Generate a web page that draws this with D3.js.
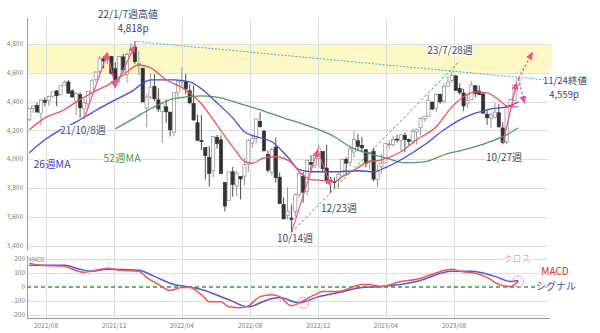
<!DOCTYPE html>
<html>
<head>
<meta charset="utf-8">
<script src="https://cdn.jsdelivr.net/npm/d3@7"></script>
<style>
body { margin: 0; background: #fff; }
svg { display: block; font-family: "Noto Sans CJK JP", "Noto Sans", sans-serif; }
</style>
</head>
<body>
<svg width="600" height="333"></svg>
<script>
const svg = d3.select('svg')

// weekly candles, one per Friday from 2021/7/2 to 2023/11/24
const weekEnds = d3.timeFriday.range(new Date(2021, 6, 1), new Date(2023, 10, 25))

const opens = [
	4274, 4352, 4372, 4320, 4409, 4406, 4438, 4474, 4448, 4514, 4536, 4474, 4402, 4448, 4348, 4385, 4463, 4553, 4610, 4697, 4689, 4712, 4628, 4572, 4710, 4587, 4733,
	4778, 4655, 4632, 4356, 4432, 4506, 4412, 4332, 4364, 4327, 4188, 4462, 4541, 4537, 4474, 4386, 4253, 4130, 4081, 4013, 3919, 4151, 4134, 3838, 3715, 3913,
	3815, 3880, 3883, 3966, 4112, 4143, 4262, 4195, 4034, 3910, 4084, 3875, 3686, 3609, 3591, 3638, 3753, 3881, 3777, 3977, 3956, 4005, 4053, 3939, 3853, 3843,
	3853, 3884, 3999, 3979, 4050, 4128, 4096, 4066, 3992, 4055, 3860, 3949, 3975, 4103, 4102, 4139, 4131, 4166, 4136, 4126, 4190, 4220, 4281, 4299, 4396, 4355,
	4450, 4404, 4505, 4547, 4578, 4492, 4459, 4389, 4415, 4510, 4473, 4453, 4313, 4284, 4289, 4322, 4217, 4120, 4364, 4407, 4514
]
const highs = [
	4355, 4372, 4393, 4415, 4429, 4441, 4468, 4480, 4513, 4545, 4549, 4486, 4465, 4466, 4429, 4475, 4559, 4608, 4718, 4714, 4743, 4717, 4672, 4713, 4731, 4741, 4808,
	4818, 4749, 4632, 4453, 4595, 4590, 4490, 4386, 4416, 4328, 4465, 4546, 4637, 4593, 4521, 4512, 4308, 4307, 4081, 4090, 4158, 4168, 4165, 3838, 3913, 3946,
	3918, 3880, 4012, 4141, 4167, 4280, 4325, 4203, 4062, 4076, 4150, 3908, 3736, 3806, 3686, 3762, 3905, 3912, 3993, 4028, 4034, 4100, 4053, 4101, 3876, 3874,
	3906, 4003, 4016, 4094, 4195, 4176, 4156, 4066, 4048, 4079, 3964, 4039, 4110, 4134, 4164, 4170, 4170, 4186, 4144, 4212, 4213, 4290, 4298, 4448, 4401, 4458,
	4457, 4528, 4578, 4607, 4584, 4527, 4490, 4458, 4541, 4514, 4511, 4466, 4338, 4324, 4393, 4385, 4256, 4367, 4421, 4521, 4560
]
const lows = [
	4264, 4321, 4327, 4233, 4367, 4370, 4430, 4367, 4442, 4514, 4456, 4428, 4305, 4289, 4279, 4346, 4459, 4537, 4595, 4630, 4659, 4586, 4495, 4531, 4600, 4532, 4733,
	4662, 4582, 4395, 4222, 4414, 4401, 4328, 4115, 4252, 4157, 4161, 4424, 4507, 4450, 4381, 4268, 4125, 4063, 3859, 3811, 3875, 4074, 3900, 3637, 3715, 3739,
	3743, 3722, 3818, 3913, 4080, 4112, 4218, 4058, 3907, 3886, 3838, 3694, 3584, 3583, 3491, 3603, 3733, 3698, 3751, 3906, 3938, 3941, 3918, 3828, 3764, 3801,
	3794, 3878, 3885, 3949, 4015, 4060, 4047, 3944, 3928, 3847, 3809, 3899, 3975, 4069, 4087, 4114, 4049, 4048, 4098, 4103, 4103, 4167, 4261, 4292, 4341, 4328,
	4385, 4389, 4503, 4528, 4474, 4448, 4335, 4356, 4415, 4430, 4446, 4316, 4238, 4216, 4283, 4223, 4104, 4103, 4329, 4402, 4511
]
const closes = [
	4352, 4369, 4327, 4411, 4395, 4436, 4468, 4441, 4509, 4535, 4458, 4432, 4455, 4357, 4391, 4471, 4545, 4605, 4697, 4682, 4698, 4595, 4538, 4712, 4620, 4726, 4766,
	4677, 4663, 4398, 4432, 4500, 4419, 4349, 4385, 4329, 4204, 4463, 4543, 4546, 4488, 4392, 4272, 4132, 4123, 4024, 3901, 4158, 4109, 3901, 3675, 3912, 3825,
	3899, 3863, 3962, 4130, 4145, 4280, 4228, 4058, 3924, 4067, 3873, 3693, 3586, 3640, 3583, 3753, 3901, 3771, 3993, 3965, 4026, 4072, 3934, 3852, 3845, 3840,
	3895, 3999, 3973, 4071, 4136, 4090, 4079, 3970, 4046, 3862, 3917, 3971, 4109, 4105, 4138, 4133, 4169, 4136, 4124, 4192, 4205, 4282, 4299, 4410, 4348, 4450,
	4399, 4505, 4536, 4582, 4478, 4464, 4370, 4406, 4515, 4457, 4450, 4320, 4288, 4308, 4327, 4224, 4117, 4358, 4415, 4514, 4559
]

// moving averages: [week number, value]
const ma13 = [[0, 4204], [4, 4287], [9, 4343], [12, 4398], [16, 4460], [21, 4530], [24, 4585], [28, 4654], [31, 4634], [35, 4551], [40, 4481], [44, 4385],
	[47, 4275], [50, 4160], [53, 4050], [55, 3985], [57, 3972], [60, 4010], [63, 4017], [67, 3975], [69, 3913], [72, 3858], [74, 3855], [78, 3844], [80, 3878],
	[84, 3941], [86, 3975], [90, 3996], [95, 4052], [99, 4135], [104, 4225], [108, 4363], [111, 4433], [114, 4467], [117, 4460], [120, 4412], [122, 4370], [125, 4363]]
const ma26 = [[0, 4045], [4, 4135], [8, 4204], [12, 4259], [16, 4322], [20, 4384], [26, 4467], [31, 4551], [37, 4551], [41, 4537], [45, 4467], [48, 4391],
	[52, 4287], [55, 4190], [59, 4149], [62, 4121], [66, 4017], [69, 3927], [72, 3913], [78, 3913], [84, 3920], [88, 3913], [91, 3941], [95, 3996], [101, 4100],
	[106, 4204], [111, 4287], [117, 4343], [120, 4356], [122, 4363], [125, 4398]]
const ma52 = [[22, 4211], [27, 4287], [31, 4350], [37, 4420], [44, 4440], [49, 4426], [54, 4384], [59, 4343], [65, 4287], [72, 4225], [78, 4156], [82, 4086],
	[86, 4045], [91, 4010], [96, 3975], [101, 3982], [106, 4031], [111, 4065], [117, 4114], [122, 4169], [125, 4218]]

// MACD panel: [week number, value]
const macd = [[0, 171], [3, 156], [9, 149], [11, 127], [14, 105], [16, 113], [20, 135], [23, 120], [28, 113], [30, 69], [33, 18], [36, -25], [39, -4], [41, -4],
	[44, -55], [46, -105], [49, -105], [51, -142], [54, -149], [56, -135], [59, -69], [62, -55], [64, -69], [67, -135], [69, -113], [73, -55], [75, -33], [79, -33],
	[85, 18], [87, 18], [90, 4], [95, 40], [99, 55], [103, 91], [108, 127], [110, 113], [114, 98], [117, 69], [120, 18], [123, 4], [125, 40]]
const signal = [[0, 156], [9, 156], [13, 127], [16, 113], [20, 127], [28, 120], [32, 76], [37, 18], [40, 4], [44, -18], [51, -91], [56, -142], [61, -91],
	[64, -76], [69, -113], [74, -69], [79, -40], [85, -4], [90, 4], [99, 40], [108, 113], [113, 113], [119, 76], [123, 40], [125, 47]]

const priceTicks = [3400, 3600, 3800, 4000, 4200, 4400, 4600, 4800]
const macdTicks = [-200, -100, 0, 100, 200]
const monthTicks = ['2021/08', '2021/12', '2022/04', '2022/08', '2022/12', '2023/04', '2023/08']

// trend lines and arrows: [date, value] pairs
const resistance = [['2022-01-07', 4818], ['2024-01-16', 4549]]
const support = [['2022-10-14', 3491], ['2023-08-11', 4682]]
const arrows = [
	[['2021-10-08', 4279], ['2021-11-19', 4740]],
	[['2021-11-19', 4740], ['2021-12-03', 4500]],
	[['2021-12-03', 4500], ['2022-01-07', 4790]],
	[['2022-10-14', 3491], ['2022-11-30', 4065]],
	[['2022-11-30', 4065], ['2022-12-23', 3815]],
	[['2023-10-27', 4104], ['2023-11-21', 4530]]
]
const outlook = [
	[['2023-11-24', 4560], ['2023-12-19', 4740]],
	[['2023-11-24', 4560], ['2023-12-05', 4390]]
]
const crosses = [[70, -113], [125, 40]]

const parseDay = d3.timeParse('%Y-%m-%d')
const parseMonth = d3.timeParse('%Y/%m')

const left = 27
const right = 548

const x = d3.scaleTime()
	.domain([new Date(2021, 5, 28), new Date(2024, 0, 16)])
	.range([left, right])

const y = d3.scaleLinear()
	.domain([3370, 4980])
	.range([250, 18])

const ym = d3.scaleLinear()
	.domain([-222, 222])
	.range([318, 256])

const textColor = '#34466a'
const pink = '#f1528e'

svg.append('rect').attr('width', 600).attr('height', 333).attr('fill', '#fff')

const defs = svg.append('defs')
defs.append('marker')
	.attr('id', 'head')
	.attr('viewBox', '0 0 8 8')
	.attr('refX', 7)
	.attr('refY', 4)
	.attr('markerWidth', 8)
	.attr('markerHeight', 8)
	.attr('markerUnits', 'userSpaceOnUse')
	.attr('orient', 'auto')
	.append('path')
	.attr('d', 'M0,0.5 L8,4 L0,7.5 Z')
	.attr('fill', pink)

/*

MAIN PANEL GRID

*/

svg.append('rect')
	.attr('x', left)
	.attr('width', 552 - left)
	.attr('y', y(4800))
	.attr('height', y(4600) - y(4800))
	.attr('fill', '#fdf7c4')

const grid = svg.append('g')
	.attr('stroke', '#dedede')
	.attr('stroke-width', 1)

grid.selectAll('.hgrid')
	.data(priceTicks)
	.join('line')
	.attr('x1', left)
	.attr('x2', right)
	.attr('y1', d => Math.round(y(d)) + 0.5)
	.attr('y2', d => Math.round(y(d)) + 0.5)

grid.selectAll('.vgrid')
	.data(monthTicks)
	.join('line')
	.attr('x1', d => Math.round(x(parseMonth(d))) + 0.5)
	.attr('x2', d => Math.round(x(parseMonth(d))) + 0.5)
	.attr('y1', 18)
	.attr('y2', 318)

grid.selectAll('.mgrid')
	.data(macdTicks.filter(d => d !== 0))
	.join('line')
	.attr('x1', left)
	.attr('x2', right)
	.attr('y1', d => Math.round(ym(d)) + 0.5)
	.attr('y2', d => Math.round(ym(d)) + 0.5)

svg.append('line')
	.attr('x1', left + 0.5).attr('x2', left + 0.5)
	.attr('y1', 18).attr('y2', 250)
	.attr('stroke', '#9a9a9a')

svg.append('line')
	.attr('x1', left + 0.5).attr('x2', left + 0.5)
	.attr('y1', 256).attr('y2', 318)
	.attr('stroke', '#9a9a9a')

svg.append('line')
	.attr('x1', left).attr('x2', 550)
	.attr('y1', 318.5).attr('y2', 318.5)
	.attr('stroke', '#9a9a9a')

svg.append('g')
	.selectAll('text')
	.data(priceTicks)
	.join('text')
	.attr('x', 23)
	.attr('y', d => y(d) + 2.2)
	.attr('text-anchor', 'end')
	.attr('font-size', 6.5)
	.attr('fill', '#7a7a7a')
	.text(d => d3.format(',')(d))

svg.append('g')
	.selectAll('text')
	.data(macdTicks)
	.join('text')
	.attr('x', 25)
	.attr('y', d => ym(d) + 2.2)
	.attr('text-anchor', 'end')
	.attr('font-size', 6.5)
	.attr('fill', '#7a7a7a')
	.text(d => d)

svg.append('g')
	.selectAll('text')
	.data(monthTicks)
	.join('text')
	.attr('x', d => x(parseMonth(d)))
	.attr('y', 328)
	.attr('text-anchor', 'middle')
	.attr('font-size', 6.5)
	.attr('fill', '#7a7a7a')
	.text(d => d)

/*

CANDLES

*/

const candles = weekEnds.map((d, i) => ({ date: d, open: opens[i], high: highs[i], low: lows[i], close: closes[i] }))

const candle = svg.append('g')
	.selectAll('g')
	.data(candles)
	.join('g')

candle.append('line')
	.attr('x1', d => x(d.date))
	.attr('x2', d => x(d.date))
	.attr('y1', d => y(d.high))
	.attr('y2', d => y(d.low))
	.attr('stroke', d => d.close >= d.open ? '#8c8c8c' : '#3a3a3a')
	.attr('stroke-width', 0.9)

candle.append('rect')
	.attr('x', d => x(d.date) - 1.6)
	.attr('width', 3.2)
	.attr('y', d => y(Math.max(d.open, d.close)))
	.attr('height', d => Math.max(0.8, Math.abs(y(d.open) - y(d.close))))
	.attr('fill', d => d.close >= d.open ? '#fff' : '#333')
	.attr('stroke', d => d.close >= d.open ? '#8c8c8c' : '#333')
	.attr('stroke-width', 0.7)

/*

MOVING AVERAGES

*/

const maLine = d3.line()
	.x(d => x(weekEnds[d[0]]))
	.y(d => y(d[1]))
	.curve(d3.curveMonotoneX)

const maSeries = [
	{ data: ma52, color: '#4f9a66' },
	{ data: ma26, color: '#4848e0' },
	{ data: ma13, color: '#ee5450' }
]

svg.append('g')
	.selectAll('path')
	.data(maSeries)
	.join('path')
	.attr('d', d => maLine(d.data))
	.attr('fill', 'none')
	.attr('stroke', d => d.color)
	.attr('stroke-width', 1.3)

/*

TREND LINES AND ARROWS

*/

const pt = p => [x(parseDay(p[0])), y(p[1])]

svg.append('line')
	.attr('x1', pt(resistance[0])[0]).attr('y1', pt(resistance[0])[1])
	.attr('x2', pt(resistance[1])[0]).attr('y2', pt(resistance[1])[1])
	.attr('stroke', '#3fb3d6')
	.attr('stroke-width', 1)
	.attr('stroke-dasharray', '2,1.5')

svg.append('line')
	.attr('x1', pt(support[0])[0]).attr('y1', pt(support[0])[1])
	.attr('x2', pt(support[1])[0]).attr('y2', pt(support[1])[1])
	.attr('stroke', '#3cb04a')
	.attr('stroke-width', 1)
	.attr('stroke-dasharray', '3,2')

svg.append('g')
	.selectAll('line')
	.data(arrows)
	.join('line')
	.attr('x1', d => pt(d[0])[0]).attr('y1', d => pt(d[0])[1])
	.attr('x2', d => pt(d[1])[0]).attr('y2', d => pt(d[1])[1])
	.attr('stroke', pink)
	.attr('stroke-width', 1.2)
	.attr('marker-end', 'url(#head)')

svg.append('g')
	.selectAll('line')
	.data(outlook)
	.join('line')
	.attr('x1', d => pt(d[0])[0]).attr('y1', d => pt(d[0])[1])
	.attr('x2', d => pt(d[1])[0]).attr('y2', d => pt(d[1])[1])
	.attr('stroke', pink)
	.attr('stroke-width', 1.2)
	.attr('stroke-dasharray', '2.5,2')
	.attr('marker-end', 'url(#head)')

/*

MACD PANEL

*/

svg.append('line')
	.attr('x1', left).attr('x2', right)
	.attr('y1', ym(0)).attr('y2', ym(0))
	.attr('stroke', '#2f9e37')
	.attr('stroke-width', 1.6)
	.attr('stroke-dasharray', '4,3')

const macdLine = d3.line()
	.x(d => x(weekEnds[d[0]]))
	.y(d => ym(d[1]))
	.curve(d3.curveMonotoneX)

svg.append('path')
	.attr('d', macdLine(signal))
	.attr('fill', 'none')
	.attr('stroke', '#5555e6')
	.attr('stroke-width', 1.5)

svg.append('path')
	.attr('d', macdLine(macd))
	.attr('fill', 'none')
	.attr('stroke', '#f0574f')
	.attr('stroke-width', 1.5)

svg.append('g')
	.selectAll('circle')
	.data(crosses)
	.join('circle')
	.attr('cx', d => x(weekEnds[d[0]]))
	.attr('cy', d => ym(d[1]))
	.attr('r', 5.5)
	.attr('fill', 'none')
	.attr('stroke', '#f19ab9')
	.attr('stroke-width', 1)

svg.append('text')
	.attr('x', 29)
	.attr('y', 262)
	.attr('font-size', 5.5)
	.attr('fill', '#888')
	.text('MACD')

/*

LABELS

*/

const labels = [
	{ text: '22/1/7週高値', x: 128, y: 18, color: textColor, size: 10 },
	{ text: '4,818p', x: 133, y: 31.5, color: textColor, size: 10 },
	{ text: '23/7/28週', x: 450, y: 54, color: textColor, size: 10 },
	{ text: '11/24終値', x: 565, y: 83.5, color: textColor, size: 9.5 },
	{ text: '4,559p', x: 564, y: 98, color: textColor, size: 9.5 },
	{ text: '21/10/8週', x: 83, y: 134, color: textColor, size: 10 },
	{ text: '26週MA', x: 52, y: 168, color: '#3c3cc8', size: 10.5 },
	{ text: '52週MA', x: 122, y: 162, color: '#3e9a4e', size: 10.5 },
	{ text: '10/14週', x: 295, y: 242, color: textColor, size: 10 },
	{ text: '12/23週', x: 339, y: 212, color: textColor, size: 10 },
	{ text: '10/27週', x: 504, y: 161, color: textColor, size: 10 },
	{ text: 'クロス', x: 517, y: 262, color: '#f29cc0', size: 9 },
	{ text: 'MACD', x: 555, y: 275, color: '#e2262e', size: 10 },
	{ text: 'シグナル', x: 556, y: 290, color: '#4444d8', size: 10 }
]

svg.append('g')
	.selectAll('text')
	.data(labels)
	.join('text')
	.attr('x', d => d.x)
	.attr('y', d => d.y)
	.attr('text-anchor', 'middle')
	.attr('font-size', d => d.size)
	.attr('fill', d => d.color)
	.attr('stroke', '#fff')
	.attr('stroke-width', 2.5)
	.attr('stroke-linejoin', 'round')
	.attr('paint-order', 'stroke')
	.text(d => d.text)
</script>
</body>
</html>
